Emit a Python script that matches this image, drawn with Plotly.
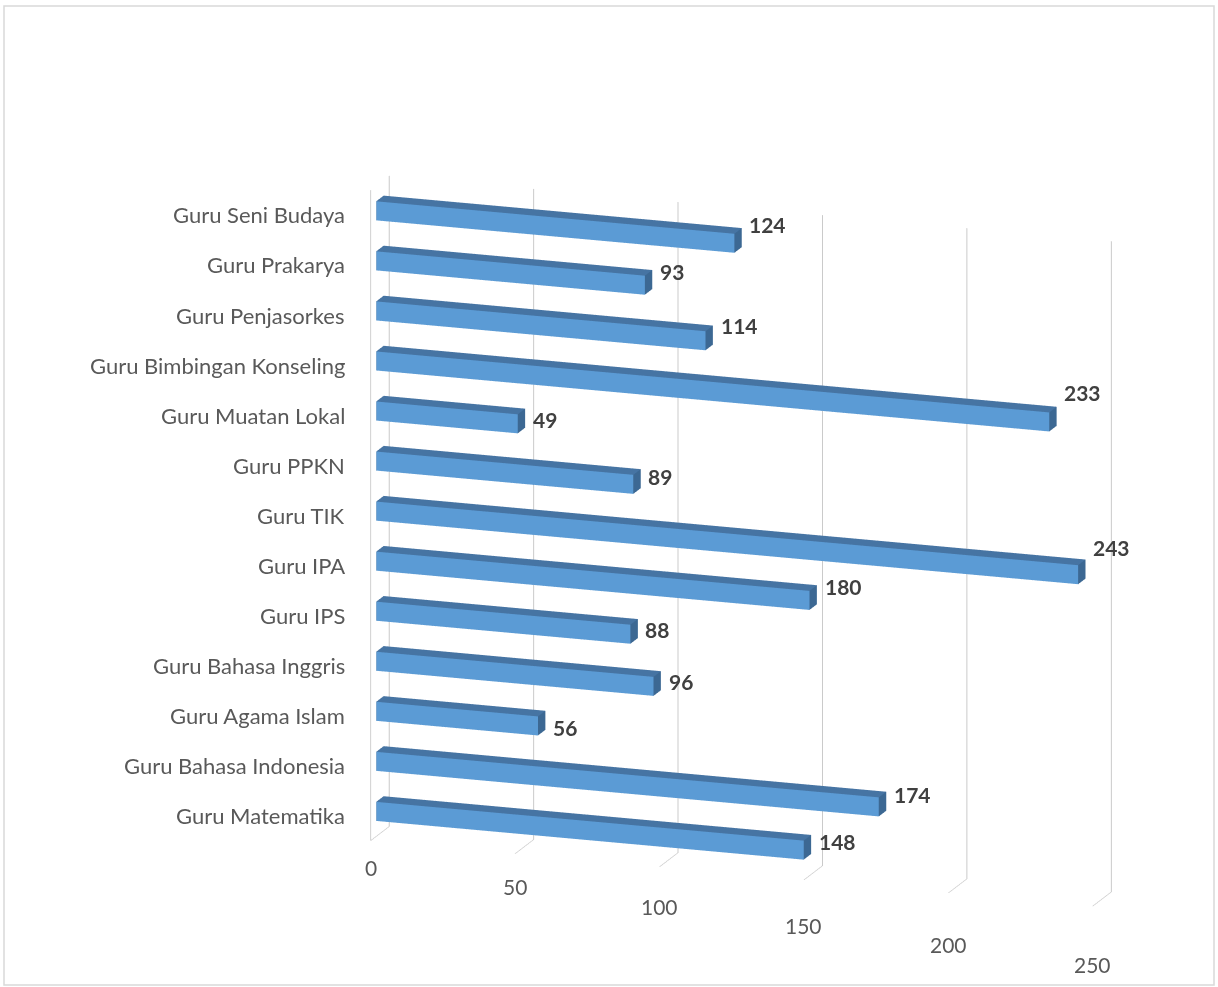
import plotly.graph_objects as go

categories = [
    "Guru Matematika", "Guru Bahasa Indonesia", "Guru Agama Islam",
    "Guru Bahasa Inggris", "Guru IPS", "Guru IPA", "Guru TIK", "Guru PPKN",
    "Guru Muatan Lokal", "Guru Bimbingan Konseling", "Guru Penjasorkes",
    "Guru Prakarya", "Guru Seni Budaya",
]
# bar lengths as drawn in the picture
bar_values = [148, 174, 56, 96, 88, 150, 243, 89, 49, 233, 114, 93, 124]
# data labels as printed in the picture
data_labels = ["148", "174", "56", "96", "88", "180", "243", "89", "49", "233", "114", "93", "124"]
tick_vals = [0, 50, 100, 150, 200, 250]

FRONT = "#5B9BD5"
TOP = "#4674A3"
END = "#3C6893"
HALF_H = 0.19
Y0, Y1 = 0.3, 0.7
ZMIN, ZMAX = -0.5, len(categories) - 0.5

xs, ys, zs, I, J, K, fc = [], [], [], [], [], [], []
for idx, v in enumerate(bar_values):
    b = len(xs)
    z0, z1 = idx - HALF_H, idx + HALF_H
    pts = [(0, Y0, z0), (v, Y0, z0), (v, Y1, z0), (0, Y1, z0),
           (0, Y0, z1), (v, Y0, z1), (v, Y1, z1), (0, Y1, z1)]
    for p in pts:
        xs.append(p[0]); ys.append(p[1]); zs.append(p[2])
    faces = [
        ((0, 1, 5), FRONT), ((0, 5, 4), FRONT),
        ((4, 5, 6), TOP), ((4, 6, 7), TOP),
        ((1, 2, 6), END), ((1, 6, 5), END),
        ((0, 4, 7), END), ((0, 7, 3), END),
        ((0, 3, 2), END), ((0, 2, 1), END),
        ((3, 7, 6), END), ((3, 6, 2), END),
    ]
    for (a, c, d), col in faces:
        I.append(b + a); J.append(b + c); K.append(b + d); fc.append(col)

mesh = go.Mesh3d(
    x=xs, y=ys, z=zs, i=I, j=J, k=K, facecolor=fc, flatshading=True,
    lighting=dict(ambient=1.0, diffuse=0.0, specular=0.0, roughness=1.0, fresnel=0.0),
    hoverinfo="skip", showscale=False,
)

# vertical (category) axis line at the front-left edge
axis_line = go.Scatter3d(
    x=[0, 0], y=[0, 0], z=[ZMIN, ZMAX], mode="lines",
    line=dict(color="#D0D0D0", width=2), hoverinfo="skip", showlegend=False,
)

annotations = []
for idx, (c, v, lab) in enumerate(zip(categories, bar_values, data_labels)):
    annotations.append(dict(
        x=0, y=0, z=idx, text=c, showarrow=False, xanchor="right", yanchor="middle",
        xshift=-24, font=dict(family="Lato", size=22, color="#595959"),
    ))
    # label offset mimics the perspective placement of the original
    annotations.append(dict(
        x=v, y=1.0, z=idx + 0.2, text="<b>%s</b>" % lab, showarrow=False,
        xanchor="left", yanchor="middle", xshift=0, yshift=0.13 * v + 1.1 * idx - 31,
        font=dict(family="Lato", size=21, color="#404040"),
    ))
for t in tick_vals:
    annotations.append(dict(
        x=t, y=0, z=ZMIN, text=str(t), showarrow=False, xanchor="center",
        yanchor="middle", yshift=-27 - 0.124 * t,
        font=dict(family="Lato", size=21, color="#595959"),
    ))

dist = 1.6
ex, ey, ez = 0.3137, -0.9111, 0.2672

fig = go.Figure([mesh, axis_line])
fig.update_layout(
    width=1218, height=987, margin=dict(l=0, r=0, t=0, b=0),
    paper_bgcolor="white", showlegend=False,
    scene=dict(
        domain=dict(x=[0.2234, 0.9934], y=[0.0, 0.91]),
        aspectmode="manual", aspectratio=dict(x=1.701, y=0.127, z=1.502),
        camera=dict(eye=dict(x=ex * dist, y=ey * dist, z=ez * dist),
                    up=dict(x=0, y=0, z=1), center=dict(x=0, y=0, z=0.0069),
                    projection=dict(type="orthographic")),
        xaxis=dict(range=[0, 250], tickvals=tick_vals, showgrid=True, gridcolor="#CACACA",
                   gridwidth=2, showline=False, zeroline=False, showbackground=False,
                   showspikes=False, title=dict(text=""), ticks="", showticklabels=False),
        yaxis=dict(range=[0, 1], showgrid=False, showline=False, zeroline=False,
                   showbackground=False, showspikes=False, showticklabels=False,
                   title=dict(text=""), ticks=""),
        zaxis=dict(range=[ZMIN, ZMAX], showgrid=False, showline=False,
                   zeroline=False, showbackground=False,
                   showspikes=False, showticklabels=False, title=dict(text=""), ticks=""),
        annotations=annotations,
    ),
    shapes=[dict(type="rect", xref="paper", yref="paper", x0=4 / 1218, x1=1214 / 1218,
                 y0=1 - 985 / 987, y1=1 - 6 / 987, line=dict(color="#D9D9D9", width=1.5))],
)
fig.write_html("out.html")
